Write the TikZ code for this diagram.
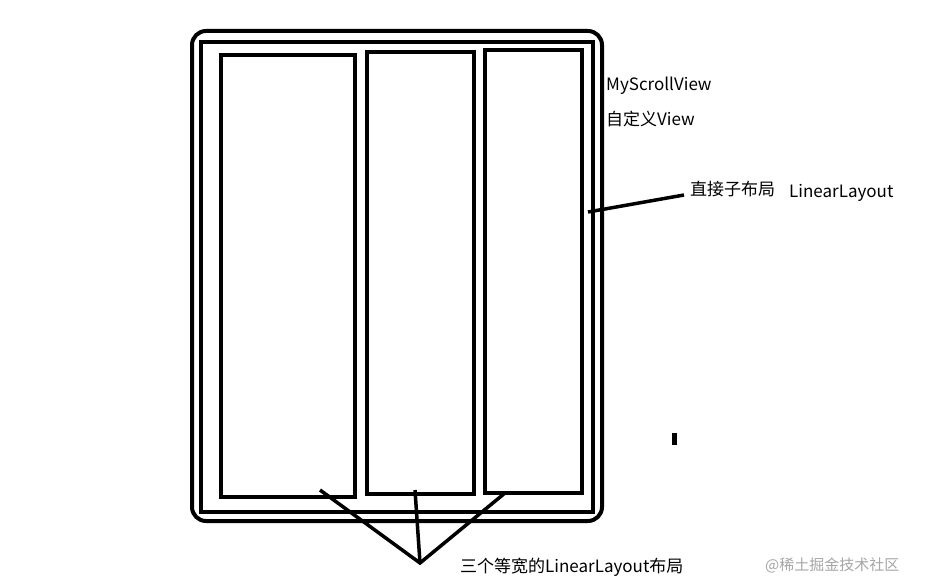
\documentclass[tikz,border=0pt]{standalone}
\usepackage{fontspec}
\setmainfont{Noto Sans CJK SC}
\begin{document}
\begin{tikzpicture}[x=1pt,y=-1pt,
  box/.style={draw=black,line width=4pt},
  lbl/.style={anchor=west,inner sep=0pt,font=\fontsize{17}{20}\selectfont},
  conn/.style={line width=3.5pt}]
\useasboundingbox[fill=white] (0,0) rectangle (929,580);
\node[box,rounded corners=14pt,minimum width=410pt,minimum height=490pt,anchor=north west] (outer) at (190,29) {};
\node[box,minimum width=392pt,minimum height=470pt,anchor=north west] (inner) at (199,40) {};
\node[box,minimum width=134pt,minimum height=442pt,anchor=north west] (c1) at (219,53) {};
\node[box,minimum width=107pt,minimum height=442pt,anchor=north west] (c2) at (365,50) {};
\node[box,minimum width=97pt,minimum height=443pt,anchor=north west] (c3) at (483,48) {};
\node[lbl] (t1) at (606,86) {MyScrollView};
\node[lbl] (t2) at (606,119) {自定义View};
\node[lbl] (t3) at (690,189) {直接子布局};
\node[lbl] (t4) at (789,193) {LinearLayout};
\coordinate (p1) at (588,212);
\coordinate (p2) at (684,195);
\draw[conn] (p1) -- (p2);
\node[lbl] (t5) at (460,567) {三个等宽的LinearLayout布局};
\coordinate (v) at (420,563);
\coordinate (a1) at (320,490);
\coordinate (a2) at (415,490);
\coordinate (a3) at (505,493);
\draw[conn] (a1) -- (v) -- (a3);
\draw[conn] (a2) -- (v);
\fill (672,433) rectangle (677,445);
\node[lbl,text=gray!70,font=\fontsize{15}{18}\selectfont] (wm) at (765,565) {@稀土掘金技术社区};
\end{tikzpicture}
\end{document}
